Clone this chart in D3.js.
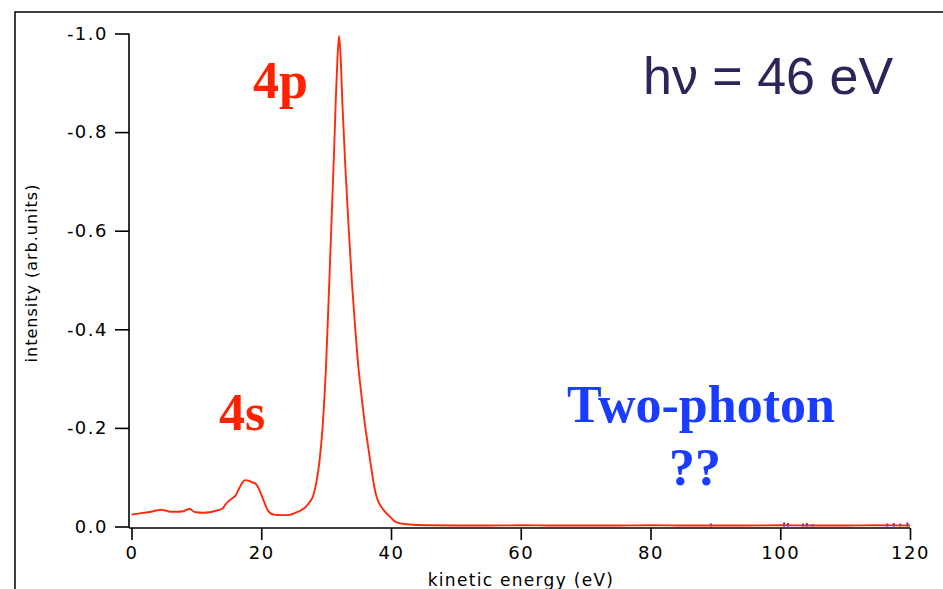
<!DOCTYPE html>
<html>
<head>
<meta charset="utf-8">
<script src="https://cdn.jsdelivr.net/npm/d3@7"></script>
<style>
  body { margin: 0; background: #fff; }
  svg { display: block; }
</style>
</head>
<body>
<svg id="spectrum" width="943" height="589"></svg>
<script>
// kinetic energy (eV) and measured intensity (arb. units, axis runs negative)
const energy = [
  0, 1, 2, 3, 4, 4.5, 5, 6, 7, 8, 8.5, 9, 9.5, 10, 11, 12, 13, 14, 14.5, 15,
  15.5, 16, 16.5, 17, 17.5, 18, 18.5, 19, 19.5, 20, 20.5, 21, 21.5, 22, 23, 24,
  25, 25.5, 26, 26.5, 27, 27.5, 28, 28.5, 29, 29.5, 30, 30.5, 31, 31.25, 31.5,
  31.75, 32, 32.25, 32.5, 33, 33.5, 34, 34.5, 35, 35.5, 36, 36.5, 37, 37.5, 38,
  38.5, 39, 40, 40.5, 41, 42, 44, 46, 50, 55, 60, 65, 70, 75, 80, 85, 90, 95,
  100, 105, 110, 115, 120
]
const intensity = [
  -0.024, -0.026, -0.028, -0.030, -0.033, -0.034, -0.033, -0.030, -0.030, -0.031,
  -0.034, -0.036, -0.031, -0.029, -0.028, -0.029, -0.032, -0.036, -0.045, -0.052,
  -0.057, -0.062, -0.075, -0.087, -0.094, -0.093, -0.090, -0.088, -0.080, -0.065,
  -0.048, -0.033, -0.026, -0.024, -0.023, -0.023, -0.026, -0.029, -0.032, -0.036,
  -0.042, -0.050, -0.062, -0.090, -0.135, -0.210, -0.330, -0.500, -0.680, -0.770,
  -0.870, -0.950, -0.995, -0.950, -0.860, -0.720, -0.600, -0.490, -0.400, -0.320,
  -0.260, -0.205, -0.160, -0.115, -0.075, -0.052, -0.040, -0.031, -0.018, -0.011,
  -0.008, -0.005, -0.003, -0.0025, -0.002, -0.002, -0.0025, -0.002, -0.002, -0.002,
  -0.0025, -0.002, -0.002, -0.002, -0.0025, -0.002, -0.002, -0.0025, -0.002
]
// weak blue two-photon features near the baseline
const twoPhotonEnergy = [89.3, 100.6, 101.2, 103.5, 104.1, 105, 116.5, 117.5, 118.5, 119.6]
const twoPhotonIntensity = [-0.004, -0.006, -0.005, -0.004, -0.005, -0.003, -0.004, -0.005, -0.004, -0.006]

const xTicks = [0, 20, 40, 60, 80, 100, 120]
const yTicks = [0, -0.2, -0.4, -0.6, -0.8, -1.0]

const svg = d3.select('#spectrum')
const FONT = 'DejaVu Sans, Verdana, sans-serif'

// outer frame (cut off by the picture on the right and bottom)
svg.append('path')
  .attr('d', 'M15,600 L15,12 L950,12')
  .attr('fill', 'none')
  .attr('stroke', '#000')
  .attr('stroke-width', 1.5)

const x = d3.scaleLinear().domain([0, 120]).range([131.5, 910])
const y = d3.scaleLinear().domain([0, -1]).range([526.5, 33.5])

const xAxis = svg.append('g')
  .attr('transform', 'translate(0,528)')
  .call(d3.axisBottom(x).tickValues(xTicks).tickSize(12).tickSizeOuter(0).tickPadding(6))
xAxis.select('.domain').attr('d', `M129,0H${x(120)}`)

const yAxis = svg.append('g')
  .attr('transform', 'translate(129,0)')
  .call(d3.axisLeft(y).tickValues(yTicks).tickSize(14).tickSizeOuter(0).tickPadding(7)
    .tickFormat(d => d.toFixed(1)))
yAxis.select('.domain').attr('d', `M0,${y(-1)}V528`)

svg.selectAll('.tick text')
  .attr('font-family', FONT)
  .attr('font-size', 18)
  .attr('letter-spacing', 1.5)
  .attr('fill', '#000')
svg.selectAll('.domain, .tick line')
  .attr('stroke', '#000')
  .attr('stroke-width', 1.6)

// axis titles
svg.append('text')
  .attr('transform', 'translate(37,273) rotate(-90)')
  .attr('text-anchor', 'middle')
  .attr('font-family', FONT)
  .attr('font-size', 16)
  .attr('letter-spacing', 1)
  .text('intensity (arb.units)')

svg.append('text')
  .attr('x', 521)
  .attr('y', 586)
  .attr('text-anchor', 'middle')
  .attr('font-family', FONT)
  .attr('font-size', 17)
  .attr('letter-spacing', 1.3)
  .text('kinetic energy (eV)')

// blue two-photon marks
svg.append('g')
  .selectAll('line')
  .data(d3.zip(twoPhotonEnergy, twoPhotonIntensity))
  .join('line')
  .attr('x1', d => x(d[0]))
  .attr('x2', d => x(d[0]))
  .attr('y1', y(0))
  .attr('y2', d => y(d[1]) - 1)
  .attr('stroke', '#1a3cff')
  .attr('stroke-width', 2)

// spectrum
const line = d3.line()
  .x(d => x(d[0]))
  .y(d => y(d[1]))
  .curve(d3.curveMonotoneX)

svg.append('path')
  .datum(d3.zip(energy, intensity))
  .attr('d', line)
  .attr('fill', 'none')
  .attr('stroke', '#ff2a0a')
  .attr('stroke-width', 1.9)

// annotations
const SERIF = 'Liberation Serif, Times New Roman, serif'
svg.append('text')
  .attr('x', 253).attr('y', 98)
  .attr('font-family', SERIF).attr('font-weight', 'bold').attr('font-size', 52)
  .attr('fill', '#ff2200')
  .text('4p')

svg.append('text')
  .attr('x', 219).attr('y', 430)
  .attr('font-family', SERIF).attr('font-weight', 'bold').attr('font-size', 52)
  .attr('fill', '#ff2200')
  .text('4s')

svg.append('text')
  .attr('x', 701).attr('y', 422)
  .attr('text-anchor', 'middle')
  .attr('font-family', SERIF).attr('font-weight', 'bold').attr('font-size', 52)
  .attr('fill', '#1a3cff')
  .text('Two-photon')

svg.append('text')
  .attr('x', 695).attr('y', 485)
  .attr('text-anchor', 'middle')
  .attr('font-family', SERIF).attr('font-weight', 'bold').attr('font-size', 52)
  .attr('fill', '#1a3cff')
  .text('??')

svg.append('text')
  .attr('x', 643).attr('y', 94)
  .attr('font-family', 'Liberation Sans, Arial, sans-serif').attr('font-size', 52)
  .attr('fill', '#2f2459')
  .text('hν = 46 eV')
</script>
</body>
</html>
